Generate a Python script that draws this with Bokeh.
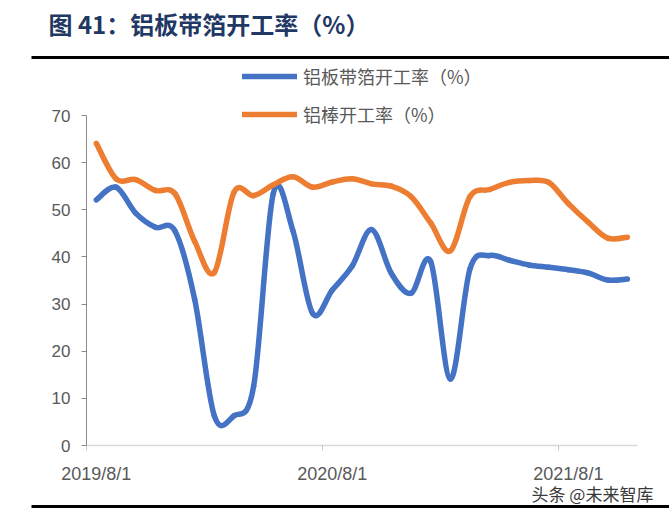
import numpy as np
from bokeh.plotting import figure
from bokeh.models import FixedTicker, Legend, LegendItem, Label, Arrow, Range1d
from bokeh.embed import file_html
from bokeh.resources import INLINE

# ---- data (monthly) ----
months = ["2019-08", "2019-09", "2019-10", "2019-11", "2019-12",
          "2020-01", "2020-02", "2020-03", "2020-04", "2020-05", "2020-06",
          "2020-07", "2020-08", "2020-09", "2020-10", "2020-11", "2020-12",
          "2021-01", "2021-02", "2021-03", "2021-04", "2021-05", "2021-06",
          "2021-07", "2021-08", "2021-09", "2021-10", "2021-11"]
plate_rate = [52.1, 54.8, 49.3, 46.3, 45.5, 31.0, 6.3, 6.3, 12.6, 53.5, 45.5,
              28.0, 33.0, 38.0, 45.8, 36.5, 32.3, 39.0, 14.1, 37.5, 40.3,
              39.3, 38.3, 37.8, 37.3, 36.6, 35.1, 35.3]
rod_rate = [64.1, 56.6, 56.4, 54.1, 53.4, 43.3, 36.7, 53.7, 53.0, 55.3, 57.0,
            54.8, 55.9, 56.6, 55.5, 55.0, 52.8, 47.2, 41.3, 52.8, 54.3,
            55.8, 56.2, 55.8, 51.3, 47.4, 44.0, 44.2]
series_names = ["铝板带箔开工率（%）", "铝棒开工率（%）"]
tick_months = ["2019-08", "2020-08", "2021-08"]
tick_texts = ["2019/8/1", "2020/8/1", "2021/8/1"]
y_ticks = [0, 10, 20, 30, 40, 50, 60, 70]
title_text = "图 41：铝板带箔开工率（%）"
source_text = "头条 @未来智库"

CJK = "Noto Sans CJK SC"
NUM = "Liberation Sans"
BLUE = "#4472C4"
ORANGE = "#ED7D31"

W, H = 669, 508
# plot area in page pixels
AX_L, AX_R, AX_T, AX_B = 86.0, 636.7, 115.0, 445.0
n = len(months)
YMAX = 70
px_x = (AX_R - AX_L) / n
px_y = (AX_B - AX_T) / YMAX

x = np.arange(n) + 0.5
label_pos = [months.index(m) + 0.5 for m in tick_months]
bin_edges = [months.index(m) for m in tick_months]


def smooth_segments(xs, ys):
    """Cubic Bezier pieces through every data point (like a smoothed line)."""
    xs = np.asarray(xs, float)
    ys = np.asarray(ys, float)
    xp = np.concatenate([[xs[0]], xs, [xs[-1]]])
    yp = np.concatenate([[ys[0]], ys, [ys[-1]]])
    k = len(xs) - 1
    d = dict(x0=xs[:-1], y0=ys[:-1], x1=xs[1:], y1=ys[1:])
    d["cx0"] = xs[:-1] + (xp[2:k + 2] - xp[0:k]) / 6
    d["cy0"] = ys[:-1] + (yp[2:k + 2] - yp[0:k]) / 6
    d["cx1"] = xs[1:] - (xp[3:k + 3] - xp[1:k + 1]) / 6
    d["cy1"] = ys[1:] - (yp[3:k + 3] - yp[1:k + 1]) / 6
    return d


p = figure(width=W, height=H, output_backend="svg", toolbar_location=None,
           x_range=Range1d(-AX_L / px_x, n + (W - AX_R) / px_x),
           y_range=Range1d(-(H - AX_B) / px_y, AX_B / px_y),
           min_border=0)
p.title.visible = False
p.outline_line_color = None
p.grid.visible = False
p.background_fill_color = "white"
p.border_fill_color = "white"

r1 = p.bezier(source=smooth_segments(x, plate_rate), x0="x0", y0="y0",
              x1="x1", y1="y1", cx0="cx0", cy0="cy0", cx1="cx1", cy1="cy1",
              line_color=BLUE, line_width=5.5, line_cap="round")
r2 = p.bezier(source=smooth_segments(x, rod_rate), x0="x0", y0="y0",
              x1="x1", y1="y1", cx0="cx0", cy0="cy0", cx1="cx1", cy1="cy1",
              line_color=ORANGE, line_width=5.5, line_cap="round")

# y axis
yax = p.yaxis[0]
yax.fixed_location = 0
yax.bounds = (0, YMAX)
yax.ticker = FixedTicker(ticks=y_ticks)
yax.axis_line_color = "#8a8a8a"
yax.major_tick_line_color = "#8a8a8a"
yax.major_tick_out = 5
yax.major_tick_in = 0
yax.minor_tick_line_color = None
yax.major_label_text_font = NUM
yax.major_label_text_font_size = "17px"
yax.major_label_text_color = "#595959"
yax.major_label_standoff = 11

# x axis
xax = p.xaxis[0]
xax.fixed_location = 0
xax.bounds = (0, n)
xax.ticker = FixedTicker(ticks=label_pos, minor_ticks=bin_edges)
xax.major_label_overrides = {pos: t for pos, t in zip(label_pos, tick_texts)}
xax.axis_line_color = "#d9d9d9"
xax.axis_line_width = 1.5
xax.major_tick_line_color = None
xax.major_tick_out = 0
xax.major_tick_in = 0
xax.minor_tick_line_color = "#c8c8c8"
xax.minor_tick_out = 5
xax.minor_tick_in = 0
xax.major_label_text_font = NUM
xax.major_label_text_font_size = "18px"
xax.major_label_text_color = "#595959"
xax.major_label_standoff = 13

# legend (screen units from bottom-left of the canvas)
legend = Legend(items=[LegendItem(label=series_names[0], renderers=[r1]),
                       LegendItem(label=series_names[1], renderers=[r2])],
                location=(242, H - 127), orientation="vertical",
                glyph_width=55, glyph_height=22, label_height=22,
                spacing=12, padding=0, margin=0, label_standoff=6,
                border_line_color=None, background_fill_alpha=0,
                label_text_font=CJK, label_text_font_size="18px",
                label_text_color="#595959")
p.add_layout(legend, "center")

# title, source and rules
p.add_layout(Label(x=48, y=H - 22.5, x_units="screen", y_units="screen",
                   text=title_text, text_font=CJK, text_font_style="bold",
                   text_font_size="24px", text_color="#1f3864",
                   text_align="left", text_baseline="middle"))
p.add_layout(Label(x=531, y=H - 492.5, x_units="screen", y_units="screen",
                   text=source_text, text_font=CJK, text_font_size="17px",
                   text_color="#3a3a3a", text_align="left",
                   text_baseline="middle"))
p.add_layout(Arrow(end=None, start=None, x_start=31, y_start=H - 57,
                   x_end=W, y_end=H - 57, start_units="screen",
                   end_units="screen", line_color="black", line_width=3))
p.add_layout(Arrow(end=None, start=None, x_start=31, y_start=H - 506,
                   x_end=W, y_end=H - 506, start_units="screen",
                   end_units="screen", line_color="black", line_width=3))

open("out.html", "w").write(file_html(p, INLINE))
